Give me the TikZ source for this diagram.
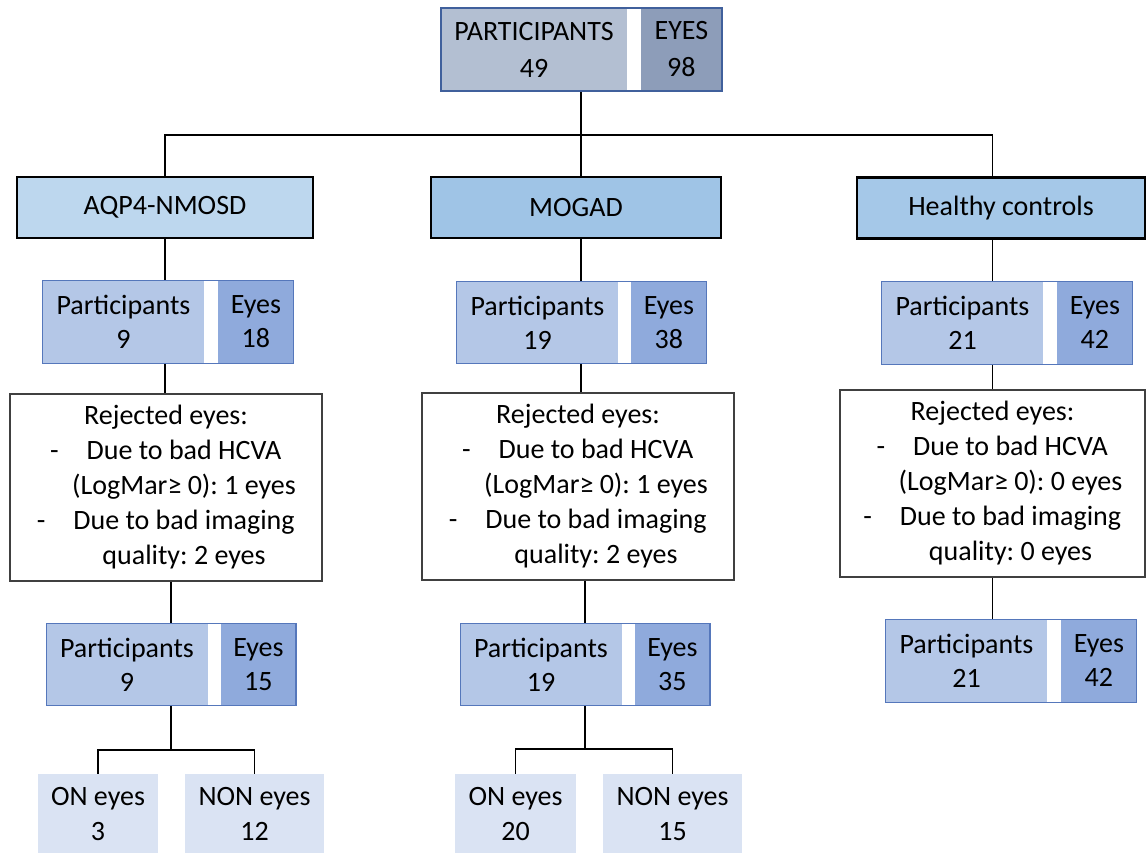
\documentclass[tikz,border=0pt]{standalone}
\usepackage{fontspec}
\setmainfont{Carlito}
\usepackage{tikz}
\usetikzlibrary{positioning, fit}
\frenchspacing

\definecolor{cTopP}{HTML}{B3BFD2}
\definecolor{cTopE}{HTML}{8D9DB9}
\definecolor{cTopB}{HTML}{40609C}
\definecolor{cPartP}{HTML}{B4C7E7}
\definecolor{cPartE}{HTML}{8FAADC}
\definecolor{cPartB}{HTML}{5577BB}
\definecolor{cGrpA}{HTML}{BDD7EE}
\definecolor{cGrpB}{HTML}{9FC4E6}
\definecolor{cGrpC}{HTML}{A5C8E8}
\definecolor{cSub}{HTML}{DAE3F3}
\definecolor{cRejB}{HTML}{404040}

\newcommand{\rejdash}{\hspace*{36pt}\llap{-\hspace{28pt}}}
\newcommand{\rejind}{\hspace*{36pt}}

\begin{document}
\begin{tikzpicture}[
    x=1pt, y=-1pt,
    txt/.style={font=\fontsize{28}{34}\selectfont, align=center, inner sep=0pt},
    grp/.style={txt, draw=black, line width=2.4pt, minimum height=61pt},
    ppart/.style={txt, fill=cPartP, minimum width=161pt, minimum height=82pt},
    epart/.style={txt, fill=cPartE, minimum width=75pt, minimum height=82pt},
    frame/.style={draw=cPartB, line width=1.3pt, inner sep=0pt},
    rej/.style={txt, font=\fontsize{28}{35}\selectfont, draw=cRejB, line width=1.5pt, fill=white, minimum width=312pt, minimum height=187pt},
    sub/.style={txt, font=\fontsize{28}{35}\selectfont, fill=cSub, minimum height=80pt},
    conn/.style={draw=black, line width=1.8pt}
]
    \useasboundingbox (0,0) rectangle (1147,852);

    % top box
    \node[ppart, fill=cTopP, minimum width=186pt, minimum height=83pt, font=\fontsize{28}{37}\selectfont] (topP) at (534,49.5) {PARTICIPANTS\\49};
    \node[epart, fill=cTopE, minimum width=80pt, minimum height=83pt, font=\fontsize{28}{37}\selectfont, right=14pt of topP] (topE) {EYES\\98};
    \node[frame, draw=cTopB, line width=1.8pt, fit=(topP)(topE)] (top) {};

    % groups
    \node[grp, fill=cGrpA, minimum width=296pt] (aqp) at (165,207.5) {AQP4-NMOSD};
    \node[grp, fill=cGrpB, minimum width=290pt] (mog) at (576,207.5) {MOGAD};
    \node[grp, fill=cGrpC, minimum width=288pt] (hc) at (1001,208) {Healthy controls};

    % participants after inclusion
    \node[ppart] (aP1) at (123.5,322) {Participants\\9};
    \node[epart, right=14pt of aP1] (aE1) {Eyes\\18};
    \node[frame, fit=(aP1)(aE1)] (a1) {};
    \node[ppart] (bP1) at (537.5,322.5) {Participants\\19};
    \node[epart, right=13pt of bP1] (bE1) {Eyes\\38};
    \node[frame, fit=(bP1)(bE1)] (b1) {};
    \node[ppart] (cP1) at (962.5,323) {Participants\\21};
    \node[epart, right=14pt of cP1] (cE1) {Eyes\\42};
    \node[frame, fit=(cP1)(cE1)] (c1) {};

    % rejected eyes
    \node[rej] (aR) at (166,487.5) {Rejected eyes:\\
        \rejdash Due to bad HCVA\\
        \rejind (LogMar≥ 0): 1 eyes\\
        \rejdash Due to bad imaging\\
        \rejind quality: 2 eyes};
    \node[rej] (bR) at (578,486.5) {Rejected eyes:\\
        \rejdash Due to bad HCVA\\
        \rejind (LogMar≥ 0): 1 eyes\\
        \rejdash Due to bad imaging\\
        \rejind quality: 2 eyes};
    \node[rej, minimum width=305pt] (hR) at (992.5,483.5) {Rejected eyes:\\
        \rejdash Due to bad HCVA\\
        \rejind (LogMar≥ 0): 0 eyes\\
        \rejdash Due to bad imaging\\
        \rejind quality: 0 eyes};

    % participants after rejection
    \node[ppart] (aP2) at (127,664.5) {Participants\\9};
    \node[epart, right=13pt of aP2] (aE2) {Eyes\\15};
    \node[frame, fit=(aP2)(aE2)] (a2) {};
    \node[ppart] (bP2) at (541,664.5) {Participants\\19};
    \node[epart, right=13pt of bP2] (bE2) {Eyes\\35};
    \node[frame, fit=(bP2)(bE2)] (b2) {};
    \node[ppart] (cP2) at (966.5,661) {Participants\\21};
    \node[epart, right=14pt of cP2] (cE2) {Eyes\\42};
    \node[frame, fit=(cP2)(cE2)] (c2) {};

    % ON / NON eyes
    \node[sub, minimum width=120pt] (aON) at (98,814) {ON eyes\\3};
    \node[sub, minimum width=139pt] (aNON) at (254.5,814) {NON eyes\\12};
    \node[sub, minimum width=121pt] (bON) at (515.5,814) {ON eyes\\20};
    \node[sub, minimum width=139pt] (bNON) at (672.5,814) {NON eyes\\15};

    % connectors
    \draw[conn] (top.south) -- ++(0,43) coordinate (tsplit);
    \draw[conn] (aqp.north) |- (tsplit) -| (hR.north |- hc.north);
    \draw[conn] (tsplit) -- (tsplit |- mog.north);

    \draw[conn] (aqp.south) -- (aqp.south |- a1.north);
    \draw[conn] (aqp.south |- a1.south) -- (aqp.south |- aR.north);
    \draw[conn] (a2.north |- aR.south) -- (a2.north);
    \draw[conn] (a2.south) -- ++(0,44) coordinate (asplit);
    \draw[conn] (aON.north) |- (asplit) -| (aNON.north);

    \draw[conn] (tsplit |- mog.south) -- (tsplit |- b1.north);
    \draw[conn] (tsplit |- b1.south) -- (tsplit |- bR.north);
    \draw[conn] (b2.north |- bR.south) -- (b2.north);
    \draw[conn] (b2.south) -- ++(0,43) coordinate (bsplit);
    \draw[conn] (bON.north) |- (bsplit) -| (bNON.north);

    \draw[conn] (hR.north |- hc.south) -- (hR.north |- c1.north);
    \draw[conn] (hR.north |- c1.south) -- (hR.north);
    \draw[conn] (hR.south) -- (hR.south |- c2.north);
\end{tikzpicture}
\end{document}
